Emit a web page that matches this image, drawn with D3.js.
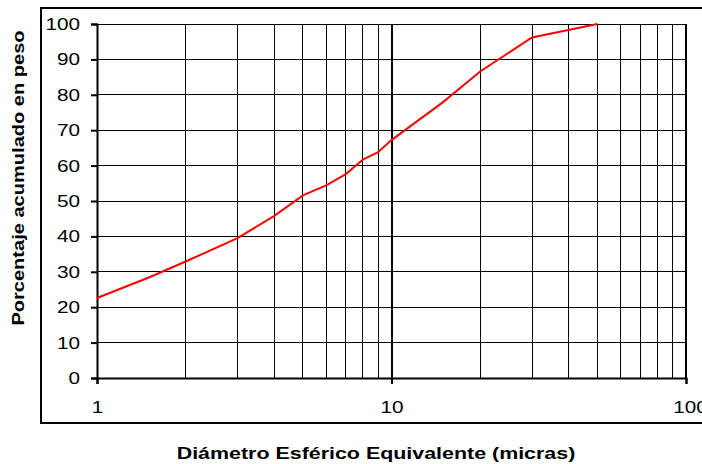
<!DOCTYPE html>
<html>
<head>
<meta charset="utf-8">
<script src="https://cdn.jsdelivr.net/npm/d3@7"></script>
<style>
  body { margin: 0; background: #fff; }
  text { font-family: "Liberation Sans", Arial, sans-serif; fill: #000; }
</style>
</head>
<body>
<script>
// diametro (micras) y porcentaje acumulado
var diametros = [1, 1.5, 2, 3, 4, 5, 6, 7, 8, 9, 10, 15, 20, 30, 50];
var porcentajes = [22.6, 28.4, 32.9, 39.5, 45.8, 51.6, 54.4, 57.6, 61.7, 63.8, 67.2, 78.0, 86.6, 96.2, 100];
var yTicks = [0, 10, 20, 30, 40, 50, 60, 70, 80, 90, 100];
var xTicks = [1, 10, 100];

var width = 702, height = 464,
  plotLeft = 97, plotRight = 686, plotTop = 24, plotBottom = 378,
  stretch = 1.22; // el texto del original es mas ancho que Arial

var svg = d3.select("body").append("svg")
  .attr("width", width)
  .attr("height", height);

// marco exterior del grafico
svg.append("rect")
  .attr("x", 41).attr("y", 8)
  .attr("width", 700).attr("height", 415)
  .attr("fill", "none").attr("stroke", "#000").attr("stroke-width", 2);

var x = d3.scaleLog().domain([1, 100]).range([plotLeft, plotRight]);
var y = d3.scaleLinear().domain([0, 100]).range([plotBottom, plotTop]);

// lineas de division verticales (1..9 por decada)
var minor = [];
for (var k = 1; k <= 10; k *= 10)
  for (var m = 1; m <= 9; m++) minor.push(m * k);
minor.push(100);

svg.append("g").selectAll("line")
  .data(minor)
  .enter().append("line")
  .attr("x1", function(d){ return x(d); })
  .attr("x2", function(d){ return x(d); })
  .attr("y1", plotTop).attr("y2", plotBottom)
  .attr("stroke", "#000")
  .attr("stroke-width", function(d){ return (d == 10 || d == 100) ? 2 : 1; })
  .attr("shape-rendering", "crispEdges");

svg.append("g").selectAll("line")
  .data(yTicks)
  .enter().append("line")
  .attr("x1", plotLeft).attr("x2", plotRight)
  .attr("y1", function(d){ return y(d); })
  .attr("y2", function(d){ return y(d); })
  .attr("stroke", "#000")
  .attr("stroke-width", 1)
  .attr("shape-rendering", "crispEdges");

// ejes
var yAxis = svg.append("g")
  .attr("transform", "translate(" + plotLeft + ",0)")
  .call(d3.axisLeft(y).tickValues(yTicks).tickSize(6));
var xAxis = svg.append("g")
  .attr("transform", "translate(0," + plotBottom + ")")
  .call(d3.axisBottom(x).tickValues(xTicks).tickFormat(d3.format("d")).tickSize(6).tickPadding(17));

[yAxis, xAxis].forEach(function(a){
  a.select(".domain").attr("stroke", "#000").attr("stroke-width", 2);
  a.selectAll(".tick line").attr("stroke", "#000").attr("stroke-width", 2);
  a.selectAll("text")
    .style("font-family", "'Liberation Sans', Arial, sans-serif")
    .style("font-size", "17px")
    .attr("fill", "#000")
    .attr("transform", "scale(" + stretch + ",1)");
});
yAxis.selectAll("text").attr("x", -17 / stretch);
// el 100 del eje x queda cortado por el borde, como en el original
xAxis.selectAll(".tick").filter(function(d){ return d == 100; })
  .select("text").attr("x", 4 / stretch);

// curva
var line = d3.line()
  .x(function(d){ return x(d[0]); })
  .y(function(d){ return y(d[1]); });

svg.append("path")
  .datum(d3.zip(diametros, porcentajes))
  .attr("d", line)
  .attr("fill", "none")
  .attr("stroke", "#ff0000")
  .attr("stroke-width", 2);

// titulos
svg.append("text")
  .attr("transform", "translate(376,459) scale(1.26,1)")
  .attr("text-anchor", "middle")
  .style("font-size", "17px").style("font-weight", "bold")
  .text("Diámetro Esférico Equivalente (micras)");

svg.append("text")
  .attr("transform", "translate(24,178) rotate(-90) scale(1.18,1)")
  .attr("text-anchor", "middle")
  .style("font-size", "17px").style("font-weight", "bold")
  .text("Porcentaje acumulado en peso");
</script>
</body>
</html>
